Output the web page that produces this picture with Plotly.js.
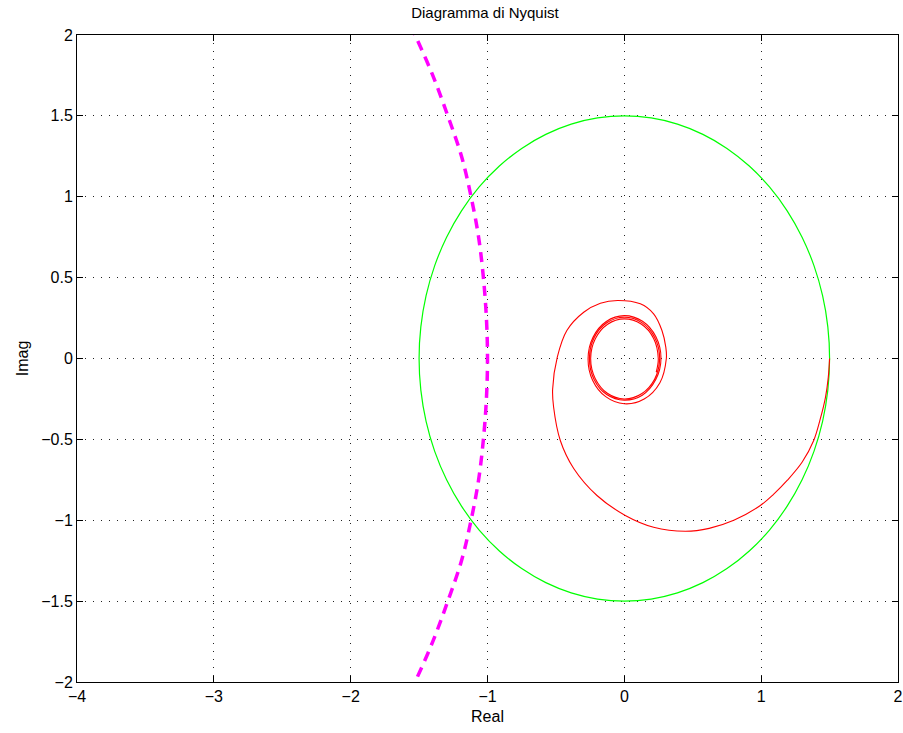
<!DOCTYPE html>
<html>
<head>
<meta charset="utf-8">
<script src="https://cdn.plot.ly/plotly-3.0.1.min.js"></script>
<style>html,body{margin:0;padding:0;background:#fff;}#chart{width:903px;height:733px;}</style>
</head>
<body>
<div id="chart"></div>
<script>
// Red Nyquist spiral
const redX = [1.5, 1.49, 1.47, 1.43, 1.384, 1.30, 1.19, 1.09, 0.994, 0.80, 0.62, 0.446, 0.214, 0.007, -0.2, -0.37, -0.468, -0.517, -0.524, -0.49, -0.42, -0.297, -0.175, -0.049, 0.117, 0.214, 0.275, 0.303,
  0.307, 0.260, 0.145, 0, -0.136, -0.232, -0.265, -0.229, -0.132, 0, 0.133, 0.231,
  0.268, 0.229, 0.131, 0, -0.129, -0.222, -0.255, -0.221, -0.128, 0, 0.128, 0.223,
  0.258, 0.221, 0.126, 0, -0.124, -0.213, -0.246, -0.212, -0.122, 0, 0.123, 0.214, 0.248, 0.233];
const redY = [0, -0.12, -0.24, -0.38, -0.507, -0.64, -0.754, -0.84, -0.909, -1.0, -1.05, -1.068, -1.043, -0.97, -0.847, -0.68, -0.507, -0.30, -0.19, 0.008, 0.173, 0.286, 0.342, 0.359, 0.338, 0.276, 0.173, 0.07,
  0, -0.150, -0.251, -0.28, -0.236, -0.134, 0, 0.132, 0.229, 0.265, 0.230, 0.134,
  0, -0.132, -0.227, -0.258, -0.223, -0.128, 0, 0.128, 0.221, 0.255, 0.222, 0.129,
  0, -0.128, -0.218, -0.25, -0.215, -0.123, 0, 0.122, 0.212, 0.245, 0.213, 0.124, 0, -0.085];

// Green circle (radius 1.5)
const greenX = [1.5, 1.4872, 1.4489, 1.3858, 1.299, 1.19, 1.0607, 0.9131, 0.75, 0.574, 0.3882, 0.1958,
  0, -0.1958, -0.3882, -0.574, -0.75, -0.9131, -1.0607, -1.19, -1.299, -1.3858, -1.4489, -1.4872,
  -1.5, -1.4872, -1.4489, -1.3858, -1.299, -1.19, -1.0607, -0.9131, -0.75, -0.574, -0.3882, -0.1958,
  0, 0.1958, 0.3882, 0.574, 0.75, 0.9131, 1.0607, 1.19, 1.299, 1.3858, 1.4489, 1.4872, 1.5];
const greenY = [0, 0.1958, 0.3882, 0.574, 0.75, 0.9131, 1.0607, 1.19, 1.299, 1.3858, 1.4489, 1.4872,
  1.5, 1.4872, 1.4489, 1.3858, 1.299, 1.19, 1.0607, 0.9131, 0.75, 0.574, 0.3882, 0.1958,
  0, -0.1958, -0.3882, -0.574, -0.75, -0.9131, -1.0607, -1.19, -1.299, -1.3858, -1.4489, -1.4872,
  -1.5, -1.4872, -1.4489, -1.3858, -1.299, -1.19, -1.0607, -0.9131, -0.75, -0.574, -0.3882, -0.1958, 0];

// Magenta dashed curve
const magX = [-1.62, -1.53, -1.40, -1.29, -1.19, -1.12, -1.065, -1.03, -1.008, -1.0, -1.008, -1.03, -1.065, -1.12, -1.19, -1.29, -1.40, -1.53, -1.62];
const magY = [2.15, 2.0, 1.75, 1.5, 1.25, 1.0, 0.75, 0.5, 0.25, 0, -0.25, -0.5, -0.75, -1.0, -1.25, -1.5, -1.75, -2.0, -2.15];

const xTicks = [-4, -3, -2, -1, 0, 1, 2];
const xTickText = ['\u22124', '\u22123', '\u22122', '\u22121', '0', '1', '2'];
const yTicks = [-2, -1.5, -1, -0.5, 0, 0.5, 1, 1.5, 2];
const yTickText = ['\u22122', '\u22121.5', '\u22121', '\u22120.5', '0', '0.5', '1', '1.5', '2'];

const FONT = 'Liberation Sans, Arial, sans-serif';

const traces = [
  {x: greenX, y: greenY, mode: 'lines', line: {color: '#00ff00', width: 1.2, shape: 'spline', smoothing: 1}, hoverinfo: 'skip'},
  {x: redX, y: redY, mode: 'lines', line: {color: '#ff0000', width: 1.1, shape: 'spline', smoothing: 1}, hoverinfo: 'skip'},
  {x: magX, y: magY, mode: 'lines', line: {color: '#ff00ff', width: 3.5, dash: '10px,7px', shape: 'spline', smoothing: 1}, hoverinfo: 'skip'}
];

const axisCommon = {
  showline: true, linecolor: '#000', linewidth: 1, mirror: 'ticks',
  ticks: 'inside', ticklen: 6, tickcolor: '#000', tickwidth: 1,
  showgrid: true, gridcolor: '#222', gridwidth: 1, griddash: '1px,7px',
  zeroline: false, tickfont: {family: FONT, size: 16, color: '#000'}
};

const layout = {
  width: 903, height: 733,
  margin: {l: 77, r: 5, t: 35, b: 51},
  paper_bgcolor: '#fff', plot_bgcolor: '#fff',
  showlegend: false,
  title: {text: 'Diagramma di Nyquist', x: 0.537, xanchor: 'center', y: 0.983, yanchor: 'middle', font: {family: FONT, size: 15, color: '#000'}},
  xaxis: Object.assign({}, axisCommon, {range: [-4, 2], tickvals: xTicks, ticktext: xTickText,
    title: {text: 'Real', standoff: 6, font: {family: FONT, size: 16, color: '#000'}}}),
  yaxis: Object.assign({}, axisCommon, {range: [-2, 2], tickvals: yTicks, ticktext: yTickText,
    title: {text: 'Imag', standoff: 8, font: {family: FONT, size: 16, color: '#000'}}})
};

Plotly.newPlot('chart', traces, layout, {staticPlot: true, displayModeBar: false});
</script>
</body>
</html>
